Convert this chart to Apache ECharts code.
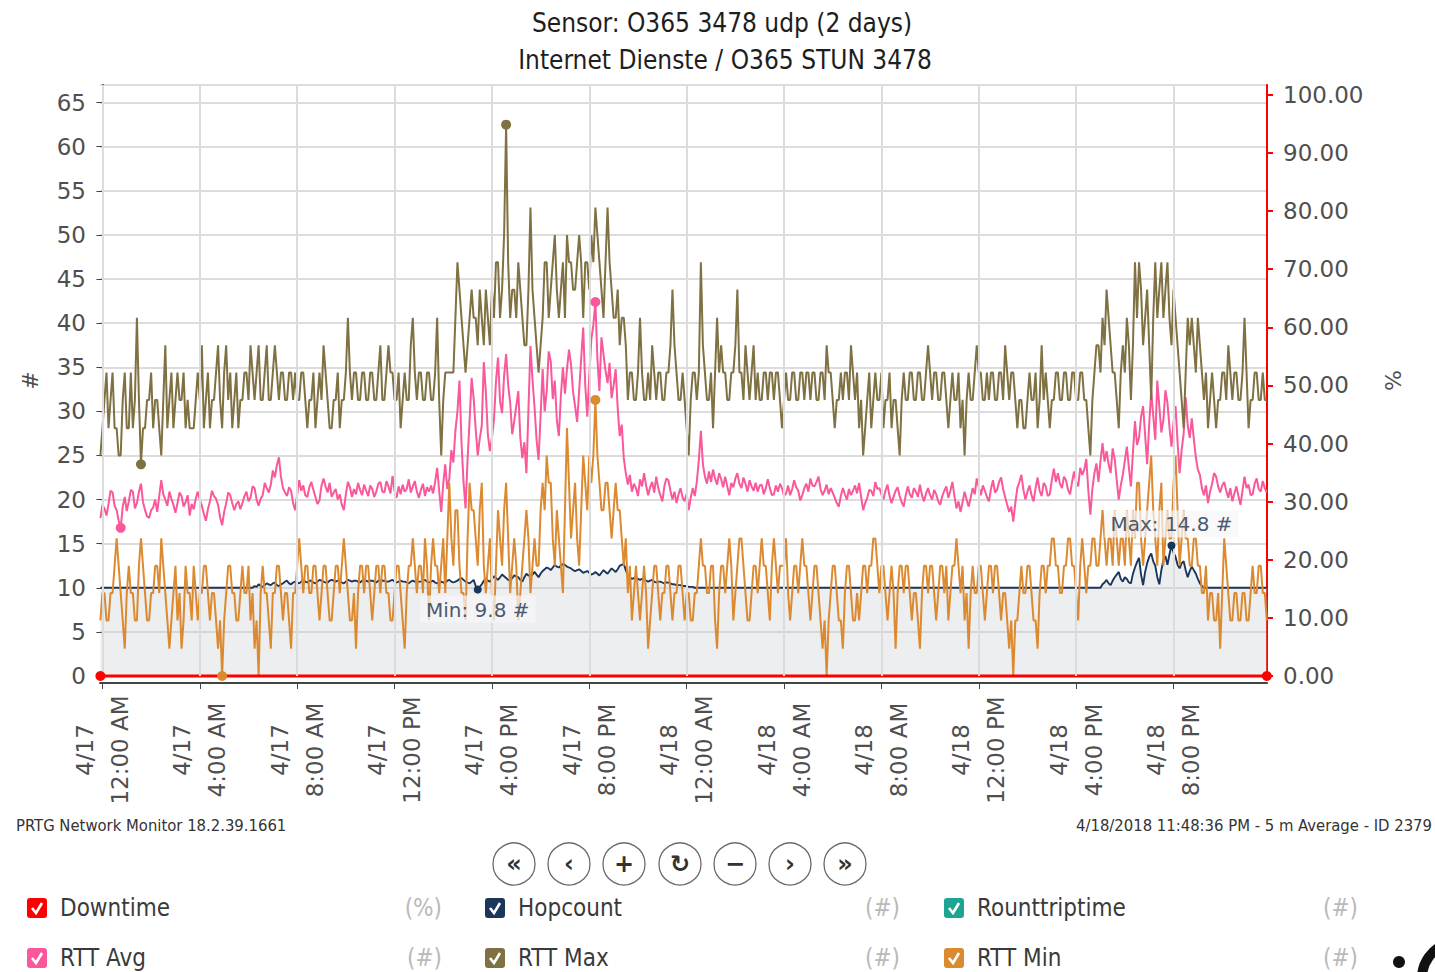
<!DOCTYPE html>
<html>
<head>
<meta charset="utf-8">
<script src="https://cdn.jsdelivr.net/npm/echarts@6/dist/echarts.min.js"></script>
<style>
  html, body { margin: 0; padding: 0; background: #fff; }
  #chart { width: 1435px; height: 972px; }
</style>
</head>
<body>
<div id="chart"></div>
<script>
// Sample times: hours relative to 4/17 00:00, 5-minute averages starting 4/16 11:55 PM
const startHour = -1 / 12;
const stepHour = 1 / 12;

// Time axis ticks (hours) and their labels
const tickHours = [0, 4, 8, 12, 16, 20, 24, 28, 32, 36, 40, 44];
const tickLabels = [
  '4/17\n12:00 AM', '4/17\n4:00 AM', '4/17\n8:00 AM', '4/17\n12:00 PM', '4/17\n4:00 PM', '4/17\n8:00 PM',
  '4/18\n12:00 AM', '4/18\n4:00 AM', '4/18\n8:00 AM', '4/18\n12:00 PM', '4/18\n4:00 PM', '4/18\n8:00 PM'
];

// RTT Max (#), one row per two hours
const rttMax = [
  25, 28.1, 31.3, 34.4, 28.1, 31.3, 34.4, 28.1, 28.1, 25, 25, 31.3, 34.4, 28.1, 28.1, 34.4, 28.1, 31.3, 40.6, 31.3, 24.0, 28.1, 28.1, 31.3,
  31.3, 34.4, 28.1, 31.3, 31.3, 28.1, 25, 31.3, 37.5, 28.1, 31.3, 34.4, 28.1, 31.3, 34.4, 31.3, 31.3, 34.4, 28.1, 31.3, 28.1, 28.1, 28.1, 31.3,
  34.4, 31.3, 37.5, 28.1, 31.3, 34.4, 28.1, 31.3, 31.3, 34.4, 37.5, 31.3, 28.1, 34.4, 37.5, 31.3, 34.4, 28.1, 31.3, 34.4, 28.1, 31.3, 31.3, 34.4,
  34.4, 31.3, 37.5, 34.4, 31.3, 34.4, 37.5, 31.3, 31.3, 34.4, 37.5, 31.3, 31.3, 34.4, 37.5, 34.4, 31.3, 34.4, 34.4, 31.3, 31.3, 34.4, 34.4, 31.3,
  34.4, 31.3, 31.3, 34.4, 34.4, 31.3, 28.1, 31.3, 31.3, 34.4, 28.1, 31.3, 34.4, 31.3, 37.5, 34.4, 31.3, 28.1, 28.1, 31.3, 31.3, 34.4, 28.1, 31.3,
  31.3, 34.4, 40.6, 34.4, 31.3, 34.4, 34.4, 31.3, 31.3, 34.4, 34.4, 31.3, 31.3, 34.4, 34.4, 31.3, 31.3, 34.4, 37.5, 31.3, 31.3, 34.4, 37.5, 34.4,
  34.4, 31.3, 31.3, 34.4, 28.1, 31.3, 34.4, 31.3, 31.3, 37.5, 40.6, 34.4, 31.3, 34.4, 34.4, 31.3, 31.3, 34.4, 34.4, 31.3, 31.3, 34.4, 40.6, 31.3,
  25, 31.3, 34.4, 34.4, 34.4, 34.4, 34.4, 40.6, 46.9, 43.8, 40.6, 37.5, 34.4, 37.5, 40.6, 43.8, 40.6, 40.6, 37.5, 43.8, 40.6, 37.5, 43.8, 40.6,
  37.5, 43.8, 40.6, 46.9, 46.9, 40.6, 43.8, 50, 62.5, 46.9, 40.6, 43.8, 43.8, 40.6, 46.9, 43.8, 40.6, 37.5, 37.5, 43.8, 53.1, 43.8, 40.6, 37.5,
  34.4, 37.5, 40.6, 46.9, 46.9, 40.6, 43.8, 46.9, 50, 43.8, 40.6, 43.8, 46.9, 40.6, 50, 46.9, 46.9, 43.8, 43.8, 46.9, 50, 46.9, 40.6, 46.9,
  46.9, 43.8, 50, 46.9, 53.1, 50, 46.9, 43.8, 40.6, 46.9, 53.1, 46.9, 43.8, 40.6, 40.6, 43.8, 37.5, 40.6, 40.6, 37.5, 31.3, 34.4, 34.4, 31.3,
  31.3, 34.4, 40.6, 34.4, 31.3, 31.3, 34.4, 31.3, 37.5, 34.4, 31.3, 34.4, 34.4, 31.3, 31.3, 34.4, 34.4, 37.5, 43.8, 37.5, 34.4, 31.3, 31.3, 34.4,
  31.3, 28.1, 25, 31.3, 34.4, 34.4, 31.3, 34.4, 46.9, 37.5, 34.4, 31.3, 31.3, 34.4, 28.1, 34.4, 40.6, 34.4, 37.5, 34.4, 34.4, 31.3, 31.3, 34.4,
  34.4, 37.5, 43.8, 34.4, 34.4, 31.3, 37.5, 34.4, 31.3, 34.4, 37.5, 31.3, 34.4, 31.3, 31.3, 34.4, 34.4, 31.3, 34.4, 34.4, 31.3, 34.4, 34.4, 31.3,
  28.1, 31.3, 34.4, 31.3, 31.3, 34.4, 34.4, 31.3, 31.3, 34.4, 34.4, 31.3, 34.4, 34.4, 31.3, 34.4, 34.4, 31.3, 31.3, 34.4, 34.4, 31.3, 37.5, 34.4,
  34.4, 31.3, 28.1, 31.3, 31.3, 34.4, 31.3, 34.4, 34.4, 31.3, 37.5, 34.4, 31.3, 34.4, 28.1, 31.3, 25, 28.1, 31.3, 34.4, 28.1, 31.3, 34.4, 31.3,
  31.3, 34.4, 28.1, 31.3, 31.3, 34.4, 28.1, 31.3, 31.3, 28.1, 25, 31.3, 34.4, 31.3, 31.3, 34.4, 34.4, 31.3, 31.3, 34.4, 34.4, 31.3, 31.3, 34.4,
  37.5, 34.4, 31.3, 34.4, 34.4, 31.3, 31.3, 34.4, 34.4, 31.3, 28.1, 31.3, 34.4, 31.3, 31.3, 34.4, 28.1, 31.3, 25, 31.3, 34.4, 31.3, 31.3, 34.4,
  37.5, 34.4, 34.4, 31.3, 31.3, 34.4, 31.3, 34.4, 34.4, 31.3, 31.3, 34.4, 34.4, 31.3, 37.5, 34.4, 31.3, 34.4, 34.4, 31.3, 28.1, 31.3, 31.3, 28.1,
  28.1, 31.3, 34.4, 31.3, 31.3, 34.4, 28.1, 31.3, 37.5, 31.3, 34.4, 31.3, 28.1, 31.3, 31.3, 34.4, 34.4, 31.3, 31.3, 34.4, 34.4, 31.3, 31.3, 34.4,
  34.4, 31.3, 31.3, 34.4, 34.4, 31.3, 31.3, 28.1, 25, 31.3, 34.4, 37.5, 37.5, 34.4, 40.6, 37.5, 43.8, 40.6, 37.5, 34.4, 34.4, 31.3, 28.1, 34.4,
  37.5, 34.4, 40.6, 37.5, 31.3, 37.5, 46.9, 40.6, 46.9, 43.8, 37.5, 40.6, 43.8, 37.5, 31.3, 40.6, 46.9, 40.6, 43.8, 46.9, 40.6, 43.8, 46.9, 40.6,
  37.5, 43.8, 40.6, 37.5, 34.4, 31.3, 28.1, 34.4, 40.6, 37.5, 40.6, 37.5, 34.4, 40.6, 37.5, 34.4, 31.3, 34.4, 28.1, 31.3, 34.4, 31.3, 28.1, 31.3,
  31.3, 34.4, 34.4, 31.3, 37.5, 34.4, 31.3, 34.4, 34.4, 31.3, 31.3, 34.4, 40.6, 34.4, 28.1, 31.3, 31.3, 34.4, 34.4, 31.3, 31.3, 34.4, 31.3, 31.3
];

// RTT Avg (#)
const rttAvg = [
  17.9, 19.4, 19.0, 18.2, 19.5, 21.0, 20.8, 19.3, 18.8, 17.6, 16.8, 19.2, 20.3, 18.7, 19.8, 21.1, 20.9, 19.0, 19.6, 20.9, 21.8, 19.7, 18.8, 18.1,
  17.9, 18.8, 19.1, 20.0, 18.6, 20.4, 22.2, 20.6, 20.0, 19.3, 20.9, 20.1, 19.4, 18.5, 19.6, 20.8, 20.4, 19.2, 19.7, 20.5, 18.2, 19.5, 18.9, 20.1,
  20.9, 20.0, 19.3, 18.4, 17.6, 18.9, 19.8, 21.0, 20.4, 20.1, 19.4, 18.0, 17.1, 18.6, 19.6, 20.8, 20.5, 19.6, 18.8, 19.5, 19.8, 18.9, 19.6, 20.4,
  20.9, 19.8, 20.2, 21.5, 21.3, 20.0, 19.3, 20.1, 20.5, 21.9, 21.3, 20.8, 21.7, 23.3, 22.5, 23.9, 24.8, 22.6, 21.3, 20.8, 20.4, 21.4, 21.0, 19.6,
  18.8, 20.6, 22.2, 21.0, 21.6, 20.5, 20.3, 21.4, 22.0, 21.1, 20.3, 19.5, 19.9, 21.6, 22.4, 21.5, 20.8, 21.9, 20.3, 20.8, 21.2, 20.0, 20.6, 19.4,
  18.8, 20.6, 22.0, 21.4, 20.3, 21.2, 20.6, 21.9, 21.1, 20.5, 21.7, 21.0, 20.4, 21.6, 21.2, 20.3, 20.9, 21.8, 22.0, 20.9, 20.8, 22.1, 21.5, 20.7,
  22.7, 21.0, 20.2, 21.5, 20.6, 21.7, 20.9, 21.2, 22.3, 20.8, 21.5, 22.1, 20.9, 20.2, 21.1, 21.8, 20.4, 21.4, 20.9, 21.6, 20.7, 22.0, 23.6, 21.0,
  18.6, 21.8, 24.0, 21.2, 22.4, 25.6, 24.2, 27.8, 30.0, 33.5, 26.5, 22.0, 19.0, 24.6, 29.0, 33.8, 31.5, 28.0, 25.0, 26.9, 28.4, 35.6, 32.2, 27.4,
  25.5, 27.0, 29.0, 33.4, 36.1, 31.2, 29.8, 34.0, 36.5, 33.0, 31.0, 27.4, 28.9, 30.6, 32.3, 27.0, 24.7, 26.5, 23.0, 30.2, 37.4, 33.6, 30.5, 26.8,
  24.5, 29.5, 34.8, 30.0, 32.3, 36.8, 35.7, 31.4, 33.5, 29.0, 27.2, 31.8, 35.0, 32.0, 34.8, 37.0, 35.3, 32.2, 30.6, 28.8, 32.3, 36.0, 39.5, 33.0,
  29.4, 34.0, 38.2, 39.8, 42.4, 36.0, 32.3, 38.4, 36.5, 34.6, 33.2, 35.5, 31.5, 33.0, 34.8, 30.4, 27.2, 28.5, 24.7, 23.0, 21.7, 22.8, 20.9, 21.8,
  21.3, 20.4, 22.3, 21.5, 23.0, 21.6, 20.5, 21.4, 22.0, 20.8, 22.6, 21.3, 20.5, 19.8, 21.5, 22.4, 22.2, 21.0, 20.0, 20.9, 19.6, 20.6, 21.3, 20.2,
  19.8, 20.7, 18.8, 20.2, 21.3, 20.4, 22.0, 24.5, 27.8, 24.0, 22.6, 21.8, 23.2, 22.0, 23.4, 22.4, 21.7, 23.0, 22.3, 21.4, 22.6, 21.5, 20.5, 21.9,
  21.4, 22.4, 23.0, 21.8, 21.3, 22.5, 21.8, 20.9, 22.2, 21.5, 21.0, 21.9, 20.9, 21.6, 21.7, 20.6, 21.3, 22.3, 21.3, 20.5, 20.6, 21.6, 20.9, 21.8,
  21.3, 20.4, 20.7, 21.6, 20.5, 21.2, 22.2, 21.4, 21.0, 19.9, 20.5, 21.3, 21.8, 20.9, 22.4, 21.6, 21.5, 22.0, 22.6, 21.2, 20.5, 21.0, 21.7, 20.6,
  21.3, 20.8, 20.2, 19.6, 19.2, 20.4, 21.3, 20.6, 20.0, 21.2, 20.5, 21.0, 21.6, 20.7, 21.9, 20.3, 18.8, 19.6, 20.2, 21.1, 21.0, 20.4, 22.0, 21.2,
  21.3, 20.6, 20.0, 21.0, 21.7, 20.4, 19.6, 20.3, 21.0, 21.4, 20.4, 19.7, 19.2, 20.5, 21.5, 20.6, 20.2, 21.3, 20.9, 20.3, 21.7, 20.5, 19.8, 20.7,
  21.3, 20.5, 20.0, 21.1, 20.6, 19.8, 19.4, 20.4, 21.0, 21.5, 20.2, 21.0, 22.0, 20.4, 19.0, 19.8, 18.6, 19.7, 20.9, 20.0, 19.2, 20.2, 21.3, 20.6,
  22.4, 21.4, 20.5, 21.6, 21.0, 20.3, 19.8, 21.2, 22.2, 20.8, 21.1, 22.0, 22.5, 21.2, 20.3, 19.4, 18.6, 19.2, 17.5, 19.6, 21.3, 22.0, 22.8, 21.1,
  20.0, 20.9, 21.6, 20.5, 19.8, 21.3, 22.5, 21.0, 20.4, 21.9, 21.5, 20.4, 20.6, 22.2, 23.5, 22.0, 23.0, 21.8, 21.3, 22.6, 22.2, 21.1, 20.6, 22.0,
  23.2, 22.0, 21.5, 23.6, 22.8, 23.4, 24.6, 21.0, 18.3, 21.2, 23.0, 24.1, 22.0, 24.4, 26.4, 24.3, 25.5, 24.0, 23.0, 25.8, 24.6, 22.2, 20.0, 21.6,
  22.8, 24.4, 26.0, 23.6, 21.5, 25.4, 28.9, 26.2, 27.0, 29.4, 30.6, 27.3, 24.0, 28.5, 32.3, 29.5, 26.8, 33.5, 30.6, 27.6, 29.0, 32.4, 31.0, 28.2,
  26.0, 28.7, 30.6, 26.5, 23.0, 25.6, 27.5, 31.6, 28.4, 27.0, 29.2, 26.9, 24.8, 23.4, 22.8, 21.3, 20.5, 21.6, 19.6, 20.9, 21.8, 23.0, 22.6, 21.5,
  20.8, 21.6, 22.0, 21.0, 20.2, 21.3, 19.8, 20.7, 21.5, 20.4, 19.4, 21.0, 22.6, 21.3, 21.7, 20.5, 20.6, 21.8, 22.4, 21.2, 20.9, 22.1, 21.3, 20.8
];

// RTT Min (#)
const rttMin = [
  6.3, 9.4, 9.4, 6.3, 6.3, 9.4, 9.4, 12.5, 15.6, 12.5, 9.4, 6.3, 3.1, 9.4, 12.5, 9.4, 9.4, 6.3, 6.3, 12.5, 15.6, 12.5, 9.4, 6.3,
  6.3, 9.4, 9.4, 12.5, 12.5, 9.4, 15.6, 12.5, 9.4, 6.3, 3.1, 6.3, 9.4, 12.5, 6.3, 9.4, 3.1, 6.3, 12.5, 9.4, 9.4, 6.3, 12.5, 9.4,
  6.3, 9.4, 9.4, 12.5, 12.5, 9.4, 6.3, 9.4, 9.4, 6.3, 3.1, 6.3, 0, 6.3, 9.4, 12.5, 12.5, 9.4, 9.4, 6.3, 6.3, 9.4, 12.5, 9.4,
  9.4, 12.5, 6.3, 9.4, 3.1, 6.3, 0, 9.4, 12.5, 9.4, 9.4, 6.3, 3.1, 9.4, 9.4, 12.5, 12.5, 9.4, 6.3, 9.4, 9.4, 6.3, 3.1, 9.4,
  9.4, 12.5, 15.6, 12.5, 9.4, 12.5, 12.5, 9.4, 9.4, 12.5, 12.5, 9.4, 6.3, 9.4, 12.5, 12.5, 9.4, 6.3, 6.3, 9.4, 12.5, 12.5, 9.4, 12.5,
  15.6, 12.5, 9.4, 6.3, 6.3, 9.4, 3.1, 9.4, 12.5, 12.5, 9.4, 12.5, 12.5, 9.4, 6.3, 9.4, 12.5, 12.5, 9.4, 12.5, 12.5, 9.4, 9.4, 6.3,
  6.3, 9.4, 12.5, 12.5, 9.4, 6.3, 3.1, 9.4, 12.5, 12.5, 15.6, 12.5, 9.4, 12.5, 12.5, 9.4, 15.6, 12.5, 6.3, 12.5, 15.6, 12.5, 12.5, 9.4,
  12.5, 15.6, 9.4, 15.6, 21.9, 15.6, 12.5, 18.8, 18.8, 12.5, 9.4, 9.4, 6.3, 15.6, 21.9, 18.8, 18.8, 15.6, 12.5, 18.8, 21.9, 12.5, 9.4, 12.5,
  15.6, 9.4, 6.3, 12.5, 18.8, 15.6, 12.5, 18.8, 21.9, 15.6, 9.4, 12.5, 15.6, 12.5, 6.3, 9.4, 12.5, 15.6, 18.8, 15.6, 9.4, 12.5, 15.6, 12.5,
  12.5, 18.8, 21.9, 18.8, 25, 21.9, 21.9, 15.6, 12.5, 18.8, 15.6, 12.5, 9.4, 18.8, 28.1, 21.9, 15.6, 18.8, 21.9, 15.6, 12.5, 18.8, 25, 21.9,
  18.8, 25, 21.9, 25, 31.3, 25, 21.9, 18.8, 18.8, 21.9, 21.9, 18.8, 15.6, 18.8, 21.9, 18.8, 18.8, 15.6, 12.5, 15.6, 9.4, 12.5, 6.3, 9.4,
  12.5, 9.4, 6.3, 9.4, 12.5, 9.4, 3.1, 6.3, 9.4, 12.5, 12.5, 9.4, 6.3, 9.4, 9.4, 12.5, 12.5, 9.4, 6.3, 9.4, 9.4, 12.5, 12.5, 9.4,
  6.3, 9.4, 9.4, 6.3, 6.3, 9.4, 9.4, 12.5, 15.6, 12.5, 12.5, 9.4, 9.4, 12.5, 12.5, 6.3, 3.1, 9.4, 12.5, 12.5, 9.4, 12.5, 15.6, 12.5,
  6.3, 9.4, 12.5, 15.6, 15.6, 12.5, 9.4, 6.3, 6.3, 9.4, 12.5, 12.5, 9.4, 12.5, 15.6, 12.5, 12.5, 9.4, 6.3, 12.5, 15.6, 12.5, 9.4, 12.5,
  12.5, 12.5, 15.6, 9.4, 6.3, 9.4, 12.5, 12.5, 9.4, 12.5, 15.6, 12.5, 12.5, 9.4, 6.3, 9.4, 12.5, 12.5, 9.4, 6.3, 3.1, 6.3, 0, 6.3,
  9.4, 12.5, 12.5, 9.4, 6.3, 6.3, 3.1, 9.4, 12.5, 12.5, 9.4, 6.3, 6.3, 9.4, 6.3, 9.4, 12.5, 12.5, 9.4, 12.5, 12.5, 15.6, 15.6, 12.5,
  9.4, 12.5, 12.5, 9.4, 6.3, 9.4, 12.5, 9.4, 3.1, 9.4, 12.5, 12.5, 9.4, 12.5, 12.5, 9.4, 6.3, 9.4, 9.4, 6.3, 3.1, 9.4, 12.5, 12.5,
  9.4, 12.5, 12.5, 9.4, 6.3, 9.4, 12.5, 12.5, 9.4, 12.5, 6.3, 9.4, 12.5, 12.5, 15.6, 12.5, 9.4, 12.5, 6.3, 9.4, 3.1, 9.4, 12.5, 9.4,
  9.4, 12.5, 12.5, 9.4, 6.3, 9.4, 12.5, 12.5, 9.4, 12.5, 12.5, 9.4, 6.3, 9.4, 9.4, 6.3, 3.1, 6.3, 0, 6.3, 6.3, 9.4, 12.5, 9.4,
  9.4, 12.5, 12.5, 9.4, 6.3, 6.3, 3.1, 9.4, 12.5, 12.5, 9.4, 12.5, 12.5, 15.6, 15.6, 12.5, 12.5, 9.4, 9.4, 12.5, 12.5, 15.6, 15.6, 12.5,
  12.5, 9.4, 6.3, 12.5, 15.6, 12.5, 9.4, 12.5, 12.5, 15.6, 15.6, 12.5, 12.5, 15.6, 18.8, 15.6, 12.5, 15.6, 15.6, 12.5, 18.8, 15.6, 12.5, 15.6,
  15.6, 12.5, 18.8, 15.6, 12.5, 18.8, 15.6, 21.9, 21.9, 15.6, 12.5, 15.6, 18.8, 21.9, 25, 18.8, 15.6, 12.5, 18.8, 21.9, 12.5, 15.6, 18.8, 15.6,
  15.6, 21.9, 25, 18.8, 12.5, 15.6, 18.8, 15.6, 15.6, 12.5, 12.5, 15.6, 15.6, 12.5, 12.5, 9.4, 9.4, 12.5, 6.3, 9.4, 9.4, 6.3, 6.3, 9.4,
  3.1, 9.4, 15.6, 12.5, 9.4, 6.3, 6.3, 9.4, 9.4, 6.3, 6.3, 9.4, 9.4, 6.3, 6.3, 9.4, 12.5, 9.4, 9.4, 12.5, 12.5, 9.4, 9.4, 6.3
];

// Hopcount (#)
const hopcount = [
  10, 10, 10, 10, 10, 10, 10, 10, 10, 10, 10, 10, 10, 10, 10, 10, 10, 10, 10, 10, 10, 10, 10, 10,
  10, 10, 10, 10, 10, 10, 10, 10, 10, 10, 10, 10, 10, 10, 10, 10, 10, 10, 10, 10, 10, 10, 10, 10,
  10, 10, 10, 10, 10, 10, 10, 10, 10, 10, 10, 10, 10, 10, 10, 10, 10, 10, 10, 10, 10, 10, 10, 10,
  10, 10, 10, 10, 10.2, 10.1, 10.4, 10.2, 10.1, 10.3, 10.5, 10.4, 10.3, 10.5, 10.6, 10.3, 10.2, 10.4, 10.5, 10.7, 10.8, 10.5, 10.4, 10.6,
  10.7, 10.6, 10.5, 10.7, 10.9, 10.7, 10.6, 10.8, 10.8, 10.6, 10.5, 10.7, 10.9, 10.8, 10.7, 10.6, 10.6, 10.8, 10.9, 10.8, 10.7, 10.8, 10.8, 10.6,
  10.5, 10.7, 10.9, 10.8, 10.7, 10.8, 10.8, 10.7, 10.6, 10.8, 10.9, 10.8, 10.7, 10.8, 10.8, 10.7, 10.6, 10.8, 10.9, 10.8, 10.8, 10.7, 10.7, 10.8,
  10.9, 10.7, 10.6, 10.7, 10.8, 10.7, 10.7, 10.6, 10.5, 10.7, 10.8, 10.7, 10.6, 10.7, 10.7, 10.8, 10.9, 10.7, 10.6, 10.7, 10.8, 10.6, 10.5, 10.6,
  10.7, 10.6, 10.6, 10.8, 10.9, 10.7, 10.6, 10.7, 10.8, 11.0, 11.1, 10.9, 10.7, 10.6, 10.5, 10.7, 10.9, 10.2, 9.8, 10.1, 10.4, 10.8, 11.0, 10.8,
  10.7, 11.0, 11.3, 11.1, 10.9, 11.2, 11.5, 11.3, 11.1, 10.9, 10.8, 11.1, 11.4, 11.3, 11.2, 10.9, 10.7, 11.2, 11.6, 11.4, 11.3, 11.5, 11.8, 11.5,
  11.2, 11.6, 11.9, 12.1, 12.3, 12.2, 12.0, 12.3, 12.6, 12.4, 12.3, 12.5, 12.7, 12.6, 12.4, 12.3, 12.2, 12.0, 11.9, 12.0, 12.1, 11.9, 11.7, 11.8,
  11.9, 11.7, 11.5, 11.6, 11.8, 11.6, 11.4, 11.7, 12.0, 11.8, 11.6, 11.9, 12.2, 12.0, 11.8, 12.1, 12.5, 12.6, 12.7, 12.0, 11.4, 11.2, 11.0, 11.1,
  11.2, 11.0, 10.9, 11.0, 11.0, 10.8, 10.7, 10.8, 10.9, 10.7, 10.6, 10.7, 10.7, 10.6, 10.5, 10.6, 10.6, 10.5, 10.4, 10.4, 10.3, 10.3, 10.3, 10.2,
  10.2, 10.2, 10.1, 10.1, 10.1, 10, 10, 10, 10, 10, 10, 10, 10, 10, 10, 10, 10, 10, 10, 10, 10, 10, 10, 10,
  10, 10, 10, 10, 10, 10, 10, 10, 10, 10, 10, 10, 10, 10, 10, 10, 10, 10, 10, 10, 10, 10, 10, 10,
  10, 10, 10, 10, 10, 10, 10, 10, 10, 10, 10, 10, 10, 10, 10, 10, 10, 10, 10, 10, 10, 10, 10, 10,
  10, 10, 10, 10, 10, 10, 10, 10, 10, 10, 10, 10, 10, 10, 10, 10, 10, 10, 10, 10, 10, 10, 10, 10,
  10, 10, 10, 10, 10, 10, 10, 10, 10, 10, 10, 10, 10, 10, 10, 10, 10, 10, 10, 10, 10, 10, 10, 10,
  10, 10, 10, 10, 10, 10, 10, 10, 10, 10, 10, 10, 10, 10, 10, 10, 10, 10, 10, 10, 10, 10, 10, 10,
  10, 10, 10, 10, 10, 10, 10, 10, 10, 10, 10, 10, 10, 10, 10, 10, 10, 10, 10, 10, 10, 10, 10, 10,
  10, 10, 10, 10, 10, 10, 10, 10, 10, 10, 10, 10, 10, 10, 10, 10, 10, 10, 10, 10, 10, 10, 10, 10,
  10, 10, 10, 10, 10, 10, 10, 10, 10, 10, 10, 10, 10, 10, 10.4, 10.6, 10.9, 10.5, 10.3, 10.8, 11.2, 11.5, 11.8, 11.0,
  10.7, 11.2, 11.0, 10.6, 10.5, 11.6, 12.3, 12.9, 13.4, 11.5, 10.3, 11.8, 12.8, 13.5, 13.9, 13.0, 12.5, 11.2, 10.4, 12.0, 13.1, 13.6, 12.6, 13.8,
  14.8, 14.0, 13.5, 12.6, 12.2, 12.8, 13.0, 12.0, 11.2, 11.9, 12.4, 12.0, 11.6, 11.0, 10.5, 10.2, 10, 10, 10, 10, 10, 10, 10, 10,
  10, 10, 10, 10, 10, 10, 10, 10, 10, 10, 10, 10, 10, 10, 10, 10, 10, 10, 10, 10, 10, 10, 10, 10
];

// Downtime (%)
const downtime = [
  0, 0, 0, 0, 0, 0, 0, 0, 0, 0, 0, 0, 0, 0, 0, 0, 0, 0, 0, 0, 0, 0, 0, 0,
  0, 0, 0, 0, 0, 0, 0, 0, 0, 0, 0, 0, 0, 0, 0, 0, 0, 0, 0, 0, 0, 0, 0, 0,
  0, 0, 0, 0, 0, 0, 0, 0, 0, 0, 0, 0, 0, 0, 0, 0, 0, 0, 0, 0, 0, 0, 0, 0,
  0, 0, 0, 0, 0, 0, 0, 0, 0, 0, 0, 0, 0, 0, 0, 0, 0, 0, 0, 0, 0, 0, 0, 0,
  0, 0, 0, 0, 0, 0, 0, 0, 0, 0, 0, 0, 0, 0, 0, 0, 0, 0, 0, 0, 0, 0, 0, 0,
  0, 0, 0, 0, 0, 0, 0, 0, 0, 0, 0, 0, 0, 0, 0, 0, 0, 0, 0, 0, 0, 0, 0, 0,
  0, 0, 0, 0, 0, 0, 0, 0, 0, 0, 0, 0, 0, 0, 0, 0, 0, 0, 0, 0, 0, 0, 0, 0,
  0, 0, 0, 0, 0, 0, 0, 0, 0, 0, 0, 0, 0, 0, 0, 0, 0, 0, 0, 0, 0, 0, 0, 0,
  0, 0, 0, 0, 0, 0, 0, 0, 0, 0, 0, 0, 0, 0, 0, 0, 0, 0, 0, 0, 0, 0, 0, 0,
  0, 0, 0, 0, 0, 0, 0, 0, 0, 0, 0, 0, 0, 0, 0, 0, 0, 0, 0, 0, 0, 0, 0, 0,
  0, 0, 0, 0, 0, 0, 0, 0, 0, 0, 0, 0, 0, 0, 0, 0, 0, 0, 0, 0, 0, 0, 0, 0,
  0, 0, 0, 0, 0, 0, 0, 0, 0, 0, 0, 0, 0, 0, 0, 0, 0, 0, 0, 0, 0, 0, 0, 0,
  0, 0, 0, 0, 0, 0, 0, 0, 0, 0, 0, 0, 0, 0, 0, 0, 0, 0, 0, 0, 0, 0, 0, 0,
  0, 0, 0, 0, 0, 0, 0, 0, 0, 0, 0, 0, 0, 0, 0, 0, 0, 0, 0, 0, 0, 0, 0, 0,
  0, 0, 0, 0, 0, 0, 0, 0, 0, 0, 0, 0, 0, 0, 0, 0, 0, 0, 0, 0, 0, 0, 0, 0,
  0, 0, 0, 0, 0, 0, 0, 0, 0, 0, 0, 0, 0, 0, 0, 0, 0, 0, 0, 0, 0, 0, 0, 0,
  0, 0, 0, 0, 0, 0, 0, 0, 0, 0, 0, 0, 0, 0, 0, 0, 0, 0, 0, 0, 0, 0, 0, 0,
  0, 0, 0, 0, 0, 0, 0, 0, 0, 0, 0, 0, 0, 0, 0, 0, 0, 0, 0, 0, 0, 0, 0, 0,
  0, 0, 0, 0, 0, 0, 0, 0, 0, 0, 0, 0, 0, 0, 0, 0, 0, 0, 0, 0, 0, 0, 0, 0,
  0, 0, 0, 0, 0, 0, 0, 0, 0, 0, 0, 0, 0, 0, 0, 0, 0, 0, 0, 0, 0, 0, 0, 0,
  0, 0, 0, 0, 0, 0, 0, 0, 0, 0, 0, 0, 0, 0, 0, 0, 0, 0, 0, 0, 0, 0, 0, 0,
  0, 0, 0, 0, 0, 0, 0, 0, 0, 0, 0, 0, 0, 0, 0, 0, 0, 0, 0, 0, 0, 0, 0, 0,
  0, 0, 0, 0, 0, 0, 0, 0, 0, 0, 0, 0, 0, 0, 0, 0, 0, 0, 0, 0, 0, 0, 0, 0,
  0, 0, 0, 0, 0, 0, 0, 0, 0, 0, 0, 0, 0, 0, 0, 0, 0, 0, 0, 0, 0, 0, 0, 0
];

// Legend entries and units
const legendNames = ['Downtime', 'Hopcount', 'Rounttriptime', 'RTT Avg', 'RTT Max', 'RTT Min'];
const legendUnits = ['(%)', '(#)', '(#)', '(#)', '(#)', '(#)'];

const COLORS = {
  downtime: '#ff0000',
  hopcount: '#1b365b',
  roundtrip: '#1fa393',
  avg: '#f9589b',
  max: '#7f7142',
  min: '#dc8a31'
};
const legendColors = [COLORS.downtime, COLORS.hopcount, COLORS.roundtrip, COLORS.avg, COLORS.max, COLORS.min];

const FONT = 'DejaVu Sans';
const FONT_C = 'DejaVu Sans Condensed';
const TEXT = '#4f4f4f';

const toPoints = arr => arr.map((v, i) => [startHour + i * stepHour, v]);
const pointAt = (arr, i) => [startHour + i * stepHour, arr[i]];
const maxIndex = arr => arr.indexOf(Math.max(...arr));
const minIndex = arr => arr.indexOf(Math.min(...arr));

function extremeDots(arr, color, size) {
  return {
    silent: true,
    symbol: 'circle',
    symbolSize: size,
    itemStyle: { color: color },
    label: { show: false },
    data: [{ coord: pointAt(arr, maxIndex(arr)) }, { coord: pointAt(arr, minIndex(arr)) }]
  };
}

const hopLabel = {
  show: true,
  fontFamily: FONT,
  fontSize: 20,
  color: '#4c5a6f',
  backgroundColor: 'rgba(246,247,249,0.72)',
  padding: [4, 6, 3, 6]
};
const hopMax = maxIndex(hopcount), hopMin = minIndex(hopcount);

const chart = echarts.init(document.getElementById('chart'), null, { renderer: 'svg' });

// Navigation buttons under the plot
const buttonGlyphs = ['\u00AB', '\u2039', '+', '\u21BB', '\u2212', '\u203A', '\u00BB'];
const buttonX = [514, 569, 624, 680, 735, 790, 845];
const graphics = [
  { type: 'text', x: 722, y: 23, style: { text: 'Sensor: O365 3478 udp (2 days)', font: '26px ' + FONT_C, fill: '#1e1e1e', align: 'center', verticalAlign: 'middle' } },
  { type: 'text', x: 725, y: 60, style: { text: 'Internet Dienste / O365 STUN 3478', font: '26px ' + FONT_C, fill: '#1e1e1e', align: 'center', verticalAlign: 'middle' } },
  { type: 'text', x: 16, y: 825, style: { text: 'PRTG Network Monitor 18.2.39.1661', font: '16.5px ' + FONT_C, fill: '#333', align: 'left', verticalAlign: 'middle' } },
  { type: 'text', x: 1432, y: 825, style: { text: '4/18/2018 11:48:36 PM - 5 m Average - ID 2379', font: '16.5px ' + FONT_C, fill: '#333', align: 'right', verticalAlign: 'middle' } }
];
buttonGlyphs.forEach((g, k) => {
  graphics.push({ type: 'circle', shape: { cx: buttonX[k], cy: 864, r: 21 }, style: { fill: '#fff', stroke: '#6a6a6a', lineWidth: 1.3 } });
  graphics.push({ type: 'text', x: buttonX[k], y: 864, style: { text: g, font: 'bold 24px ' + FONT, fill: '#333', align: 'center', verticalAlign: 'middle' } });
});

// Legend with check boxes and units
const legendBoxX = [27, 485, 944];
const legendUnitX = [442, 900, 1358];
const legendRowY = [908, 958];
legendNames.forEach((name, k) => {
  const col = k % 3, row = Math.floor(k / 3);
  const bx = legendBoxX[col], cy = legendRowY[row];
  graphics.push({ type: 'rect', shape: { x: bx, y: cy - 10, width: 20, height: 20, r: 3 }, style: { fill: legendColors[k] } });
  graphics.push({ type: 'polyline', shape: { points: [[bx + 5, cy], [bx + 9, cy + 5], [bx + 15, cy - 5]] }, style: { stroke: '#fff', lineWidth: 2.6, fill: null } });
  graphics.push({ type: 'text', x: bx + 33, y: cy, style: { text: name, font: '24px ' + FONT_C, fill: '#3a3a3a', align: 'left', verticalAlign: 'middle' } });
  graphics.push({ type: 'text', x: legendUnitX[col], y: cy, style: { text: legendUnits[k], font: '24px ' + FONT_C, fill: '#b9b9b9', align: 'right', verticalAlign: 'middle' } });
});

// Dark shape in the bottom-right corner
graphics.push({ type: 'arc', shape: { cx: 1458, cy: 978, r: 36, startAngle: Math.PI * 0.98, endAngle: Math.PI * 1.42 }, style: { stroke: '#111', lineWidth: 10, fill: null } });
graphics.push({ type: 'circle', shape: { cx: 1399, cy: 962, r: 6 }, style: { fill: '#111' } });

const option = {
  animation: false,
  backgroundColor: '#fff',
  grid: { left: 100, right: 168, top: 85, bottom: 296, containLabel: false },
  xAxis: {
    type: 'value',
    min: -0.1,
    max: 47.84,
    offset: 7,
    axisLine: { show: true, onZero: false, lineStyle: { color: '#444', width: 2 } },
    axisTick: { show: true, customValues: tickHours, length: 6, lineStyle: { color: '#444', width: 1 } },
    axisLabel: {
      customValues: tickHours,
      rotate: 90,
      align: 'center',
      verticalAlign: 'middle',
      margin: 67,
      lineHeight: 35,
      fontFamily: FONT,
      fontSize: 23,
      color: TEXT,
      formatter: v => tickLabels[tickHours.indexOf(Math.round(v))] || ''
    },
    splitLine: { show: false }
  },
  yAxis: [
    {
      type: 'value', min: 0, max: 67, interval: 5, position: 'left',
      name: '#', nameLocation: 'middle', nameGap: 59, nameRotate: 90,
      nameTextStyle: { fontFamily: FONT, fontSize: 22, color: TEXT },
      axisLine: { show: true, lineStyle: { color: '#444', width: 2 } },
      axisTick: { show: true, length: 6, lineStyle: { color: '#444' } },
      axisLabel: { showMaxLabel: false, margin: 14, fontFamily: FONT, fontSize: 23, color: TEXT },
      splitLine: { show: true, lineStyle: { color: '#dcdcdc', width: 2 } }
    },
    {
      type: 'value', min: 0, max: 101.7, interval: 10, position: 'right',
      name: '%', nameLocation: 'middle', nameGap: 115, nameRotate: 90,
      nameTextStyle: { fontFamily: FONT, fontSize: 22, color: TEXT },
      axisLine: { show: true, lineStyle: { color: '#ff0000', width: 2 } },
      axisTick: { show: true, length: 6, lineStyle: { color: '#ff0000', width: 2 } },
      axisLabel: { showMaxLabel: false, margin: 16, fontFamily: FONT, fontSize: 23, color: TEXT, formatter: v => v.toFixed(2) },
      splitLine: { show: false }
    }
  ],
  graphic: graphics,
  series: [
    {
      // vertical grid lines at the time ticks
      type: 'line', data: [], silent: true,
      markLine: {
        silent: true, symbol: 'none', label: { show: false },
        lineStyle: { color: '#dcdcdc', width: 2, type: 'solid' },
        data: tickHours.map(h => ({ xAxis: h }))
      }
    },
    {
      name: 'Hopcount', type: 'line', data: toPoints(hopcount), yAxisIndex: 0,
      symbol: 'none', lineStyle: { color: COLORS.hopcount, width: 1.9 },
      areaStyle: { color: 'rgba(196,200,208,0.45)' },
      markPoint: {
        silent: true, symbol: 'circle', symbolSize: 8, itemStyle: { color: COLORS.hopcount },
        data: [
          { coord: pointAt(hopcount, hopMax), label: Object.assign({}, hopLabel, { position: 'top', distance: 4, formatter: 'Max: ' + hopcount[hopMax].toFixed(1) + ' #' }) },
          { coord: pointAt(hopcount, hopMin), label: Object.assign({}, hopLabel, { position: 'bottom', distance: 2, formatter: 'Min: ' + hopcount[hopMin].toFixed(1) + ' #' }) }
        ]
      }
    },
    {
      name: 'RTT Avg', type: 'line', data: toPoints(rttAvg), yAxisIndex: 0,
      symbol: 'none', lineStyle: { color: COLORS.avg, width: 2 },
      markPoint: extremeDots(rttAvg, COLORS.avg, 10)
    },
    {
      name: 'RTT Max', type: 'line', data: toPoints(rttMax), yAxisIndex: 0,
      symbol: 'none', lineStyle: { color: COLORS.max, width: 2 },
      markPoint: extremeDots(rttMax, COLORS.max, 10)
    },
    {
      name: 'RTT Min', type: 'line', data: toPoints(rttMin), yAxisIndex: 0,
      symbol: 'none', lineStyle: { color: COLORS.min, width: 2 },
      markPoint: extremeDots(rttMin, COLORS.min, 10)
    },
    {
      name: 'Downtime', type: 'line', data: toPoints(downtime), yAxisIndex: 1,
      symbol: 'none', clip: false, lineStyle: { color: COLORS.downtime, width: 3 },
      markPoint: {
        silent: true, symbol: 'circle', symbolSize: 10, itemStyle: { color: COLORS.downtime }, label: { show: false },
        data: [{ coord: pointAt(downtime, 0) }, { coord: pointAt(downtime, downtime.length - 1) }]
      }
    }
  ]
};

chart.setOption(option);
</script>
</body>
</html>
